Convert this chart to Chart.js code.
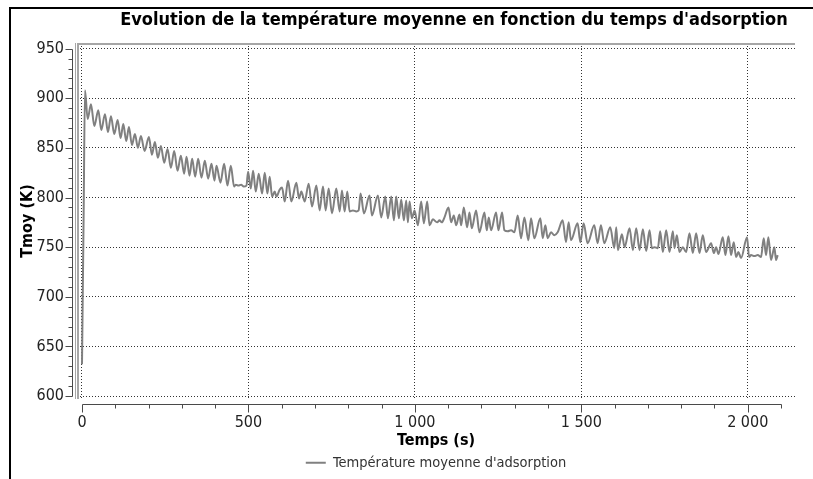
<!DOCTYPE html>
<html><head><meta charset="utf-8">
<script src="https://cdn.jsdelivr.net/npm/chart.js@4.4.1/dist/chart.umd.min.js"></script>
<style>
html,body{margin:0;padding:0;background:#fff;}
#wrap{position:relative;width:813px;height:479px;overflow:hidden;background:#fff;}
#frame{position:absolute;left:9px;top:7px;width:900px;height:600px;border-left:2px solid #000;border-top:2px solid #000;pointer-events:none;}
canvas{position:absolute;left:0;top:0;}
</style></head><body>
<div id="wrap"><canvas id="c" width="813" height="479"></canvas><div id="frame"></div></div>
<script>
const chartTitle = "Evolution de la température moyenne en fonction du temps d'adsorption";
const xTitle = "Temps (s)";
const yTitle = "Tmoy (K)";
const seriesLabel = "Température moyenne d'adsorption";
const xTicks = [0, 500, 1000, 1500, 2000];
const yTicks = [600, 650, 700, 750, 800, 850, 900, 950];
const xAxisEnd = 2100;

const times = [
0,5,9,17,27,37,49,58,69,78,87,97,107,116,124,133,141,150,159,168,177,188,201,210,219,228,237,247,257,267,277,287,297,307,314,323,331,340,349,359,369,379,389,398,404,416,427,437,447,457,462,470,478,486,494,499,507,
514,522,531,541,549,557,564,571,579,584,594,601,609,619,629,644,652,659,669,681,691,704,714,724,732,741,751,764,774,781,789,797,804,814,824,831,837,847,864,871,889,899,911,919,929,937,944,952,959,967,974,979,984,991,999,1009,1019,1027,1037,1044,1054,
1067,1074,1081,1089,1101,1109,1117,1124,1134,1139,1147,1157,1164,1171,1184,1194,1209,1216,1222,1229,1244,1251,1262,1269,1279,1289,1299,1309,1319,1329,1341,1349,1359,1377,1384,1392,1399,1409,1419,1429,1444,1454,1462,1469,1489,1497,1507,1519,1539,1549,1559,1569,1587,1599,
1605,1610,1622,1630,1645,1655,1665,1675,1685,1695,1705,1712,1720,1730,1737,1745,1755,1765,1775,1780,1787,1795,1805,1815,1825,1835,1845,1855,1865,1875,1890,1898,1905,1912,1925,1933,1942,1950,1958,1965,1972,1980,1998,2004,2010,2020,2030,2040,2048,2055,2062,2070,2080,2085,2090
];
const temps = [
632,785,908,879,894,872,888,868,884,866,882,864,878,860,874,857,871,853,864,850,862,847,861,843,856,840,852,835,849,830,847,827,842,824,841,822,839,821,839,820,837,819,834,817,832,815,834,812,832,811,813,812,813,811,812,826,809,
827,806,824,804,825,804,821,801,806,801,808,810,796,817,796,815,799,806,796,814,791,812,787,811,787,809,784,809,786,807,786,806,786,787,786,787,804,784,802,782,802,780,801,779,801,777,801,779,798,777,797,775,796,779,787,772,796,774,796,772,778,
775,777,775,780,790,775,782,772,783,772,790,770,785,769,787,765,785,767,780,767,785,767,785,767,766,767,765,782,759,780,757,779,759,779,759,772,759,765,762,765,777,755,775,757,774,755,774,754,772,754,772,754,770,749,
770,747,763,750,769,747,769,747,768,746,767,749,750,749,766,745,767,745,766,749,762,745,750,745,764,744,764,744,762,745,754,744,750,743,760,742,761,742,755,740,745,739,760,740,742,741,742,740,759,742,760,737,750,737,742
];

function pickFont(cands) {
  const c = document.createElement('canvas').getContext('2d');
  const s = 'Evolution 0123456789 température moyenne';
  c.font = '40px monospace';
  const base = c.measureText(s).width;
  for (const f of cands) {
    c.font = "40px '" + f + "', monospace";
    if (Math.abs(c.measureText(s).width - base) > 0.5) return f;
  }
  return 'Liberation Sans';
}
const FONT = pickFont(['Liberation Sans Narrow', 'Arial Narrow', 'DejaVu Sans Condensed', 'Roboto Condensed']);
const FAMILY = "'" + FONT + "', 'Liberation Sans', sans-serif";
Chart.defaults.font.family = FAMILY;

function fmt(v) { return String(v).replace(/\B(?=(\d{3})+(?!\d))/g, ' '); }

const framePlugin = {
  id: 'frameAxes',
  afterDraw(chart) {
    const {ctx, chartArea: a, scales: {x, y}} = chart;
    ctx.save();
    // plot border (top + left)
    ctx.strokeStyle = '#a6a6a6';
    ctx.lineWidth = 2;
    ctx.beginPath();
    ctx.moveTo(a.left + 1, a.bottom);
    ctx.lineTo(a.left + 1, a.top + 1);
    ctx.lineTo(a.right, a.top + 1);
    ctx.stroke();
    ctx.lineWidth = 1;
    ctx.beginPath();
    ctx.moveTo(a.left - 1.5, a.bottom);
    ctx.lineTo(a.left - 1.5, a.top);
    ctx.stroke();
    // y axis
    ctx.strokeStyle = '#4a4a4a';
    ctx.lineWidth = 1;
    const ax = a.left - 4.5;
    const yTop = Math.round(y.getPixelForValue(yTicks[yTicks.length - 1])) + 0.5;
    const yBot = Math.round(y.getPixelForValue(yTicks[0])) + 0.5;
    ctx.beginPath();
    ctx.moveTo(ax, yTop); ctx.lineTo(ax, yBot);
    for (let v = yTicks[0]; v <= yTicks[yTicks.length - 1]; v += 10) {
      const py = Math.round(y.getPixelForValue(v)) + 0.5;
      const len = yTicks.includes(v) ? 7 : 4;
      ctx.moveTo(ax - len, py); ctx.lineTo(ax, py);
    }
    ctx.stroke();
    // x axis
    const ay = a.bottom + 5.5;
    const x0 = Math.round(x.getPixelForValue(0)) + 0.5;
    const x1 = Math.round(x.getPixelForValue(xAxisEnd)) + 0.5;
    ctx.beginPath();
    ctx.moveTo(x0, ay); ctx.lineTo(x1, ay);
    for (let v = 0; v <= xAxisEnd; v += 100) {
      const px = Math.round(x.getPixelForValue(v)) + 0.5;
      const len = xTicks.includes(v) ? 8 : 4;
      ctx.moveTo(px, ay); ctx.lineTo(px, ay + len);
    }
    ctx.stroke();
    // chart title
    ctx.font = 'bold 18px ' + FAMILY;
    ctx.fillStyle = '#000';
    ctx.textAlign = 'center';
    ctx.textBaseline = 'middle';
    ctx.fillText(chartTitle, (a.left + a.right) / 2 + 18, 20);
    ctx.restore();
  }
};

new Chart(document.getElementById('c'), {
  type: 'line',
  data: {
    datasets: [{
      label: seriesLabel,
      data: times.map((t, i) => ({x: t, y: temps[i]})),
      borderColor: '#808080',
      backgroundColor: '#808080',
      borderWidth: 2,
      pointRadius: 0,
      fill: false,
      cubicInterpolationMode: 'monotone'
    }]
  },
  options: {
    responsive: false,
    animation: false,
    devicePixelRatio: 1,
    layout: {padding: {left: 0, right: 18, top: 43, bottom: -1}},
    plugins: {
      title: {display: false},
      tooltip: {enabled: false},
      legend: {
        display: true,
        position: 'bottom',
        fullSize: false,
        labels: {
          usePointStyle: true,
          pointStyle: 'line',
          pointStyleWidth: 20,
          color: '#333',
          padding: 4,
          font: {size: 14.5, lineHeight: 1}
        }
      }
    },
    scales: {
      x: {
        type: 'linear',
        min: -15,
        max: 2142,
        afterBuildTicks: s => { s.ticks = xTicks.map(v => ({value: v})); },
        afterFit: s => { s.height = 52.5; },
        ticks: {
          autoSkip: false, maxRotation: 0, padding: 14,
          color: '#222', font: {size: 16},
          callback: v => fmt(v)
        },
        grid: {color: '#333', lineWidth: 1, drawTicks: false},
        border: {display: false, dash: [1, 2]},
        title: {display: true, text: xTitle, color: '#000', font: {size: 16, weight: 'bold'}, padding: {top: 0, bottom: 1}}
      },
      y: {
        type: 'linear',
        min: 597,
        max: 955.7,
        afterBuildTicks: s => { s.ticks = yTicks.map(v => ({value: v})); },
        afterFit: s => { s.width = 77; },
        ticks: {padding: 13, color: '#222', font: {size: 16}, callback: v => String(v)},
        grid: {color: '#333', lineWidth: 1, drawTicks: false},
        border: {display: false, dash: [1, 2]},
        title: {display: true, text: yTitle, color: '#000', font: {size: 16, weight: 'bold'}, padding: {top: 18, bottom: 0}}
      }
    }
  },
  plugins: [framePlugin]
});
</script>
</body></html>
